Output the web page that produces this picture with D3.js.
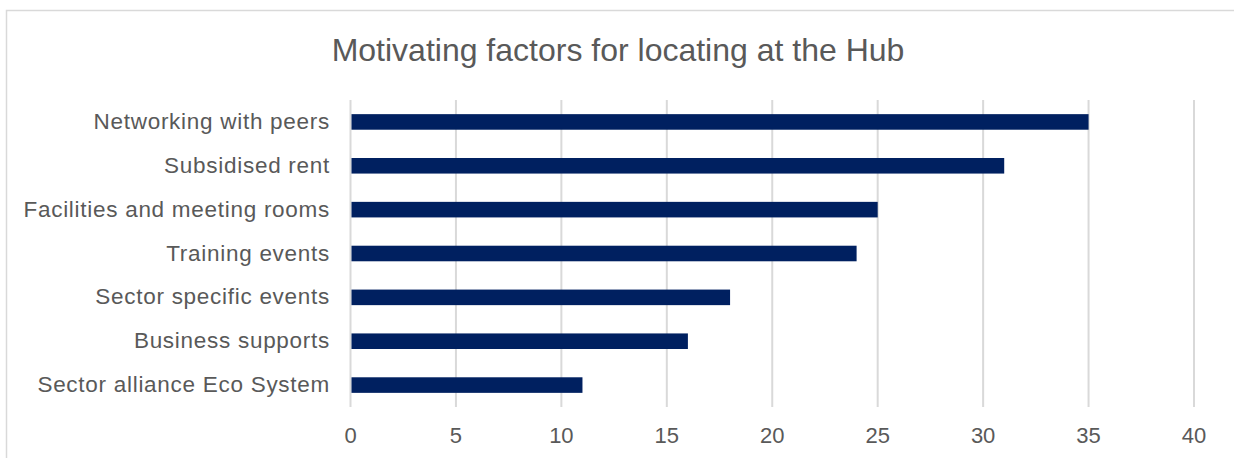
<!DOCTYPE html>
<html>
<head>
<meta charset="utf-8">
<script src="https://cdn.jsdelivr.net/npm/d3@7"></script>
<style>
html,body{margin:0;padding:0;background:#fff;}
svg{display:block;}
text{font-family:"Liberation Sans",Arial,sans-serif;fill:#595959;}
</style>
</head>
<body>
<svg id="chart" width="1234" height="458"></svg>
<script>
const categories = ["Networking with peers","Subsidised rent","Facilities and meeting rooms","Training events","Sector specific events","Business supports","Sector alliance Eco System"];
const values = [35,31,25,24,18,16,11];
const xTicks = [0,5,10,15,20,25,30,35,40];
const title = "Motivating factors for locating at the Hub";

const svg = d3.select("#chart");
// chart border
svg.append("rect").attr("x",6.5).attr("y",10.5).attr("width",1240).attr("height",460)
  .attr("fill","#fff").attr("stroke","#d9d9d9").attr("stroke-width",1.5);

const x = d3.scaleLinear().domain([0,40]).range([350.5,1194]);
const y = d3.scaleBand().domain(categories).range([100,407]).paddingInner(0.645).paddingOuter(0.3225);

// grid
svg.append("g").selectAll("line").data(xTicks).join("line")
  .attr("x1",d=>x(d)).attr("x2",d=>x(d)).attr("y1",100).attr("y2",407)
  .attr("stroke","#d9d9d9").attr("stroke-width",2);

// bars
svg.append("g").selectAll("rect").data(values).join("rect")
  .attr("x",x(0)+1).attr("y",(d,i)=>y(categories[i]))
  .attr("width",d=>x(d)-x(0)-1).attr("height",y.bandwidth())
  .attr("fill","#002060");

// y labels
svg.append("g").selectAll("text").data(categories).join("text")
  .attr("x",330).attr("y",d=>y(d)+y.bandwidth()/2+7)
  .attr("text-anchor","end").attr("font-size",22.5).attr("letter-spacing",0.72).text(d=>d);

// x tick labels
svg.append("g").selectAll("text").data(xTicks).join("text")
  .attr("x",d=>x(d)).attr("y",443)
  .attr("text-anchor","middle").attr("font-size",22).text(d=>d);

// title
svg.append("text").attr("x",618).attr("y",61).attr("text-anchor","middle")
  .attr("font-size",32).text(title);
</script>
</body>
</html>
